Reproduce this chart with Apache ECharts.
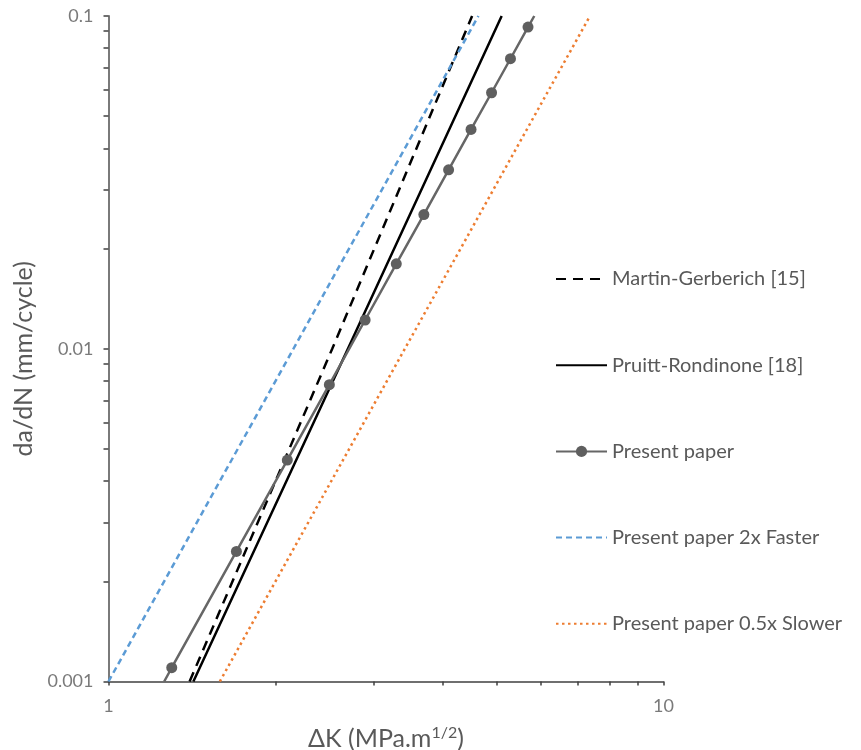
<!DOCTYPE html>
<html>
<head>
<meta charset="utf-8">
<script src="https://cdn.jsdelivr.net/npm/echarts@6/dist/echarts.min.js"></script>
<style>
html,body{margin:0;padding:0;background:#fff;}
#chart{width:861px;height:750px;}
</style>
</head>
<body>
<div id="chart"></div>
<script>
// ---- data ----
const seriesNames = ['Martin-Gerberich [15]', 'Pruitt-Rondinone [18]', 'Present paper', 'Present paper 2x Faster', 'Present paper 0.5x Slower'];

// [ΔK, da/dN]
const martinGerberich = [[1.40, 0.001], [2.53, 0.01], [4.52, 0.1]];
const pruittRondinone = [[1.422, 0.001], [2.70, 0.01], [5.11, 0.1]];
const presentLineEnds = [[1.26, 0.001], [5.85, 0.1]];
const presentK = [1.3, 1.7, 2.1, 2.5, 2.9, 3.3, 3.7, 4.1, 4.5, 4.9, 5.3, 5.7];
const presentRate = [0.0011, 0.00246, 0.00463, 0.0078, 0.0122, 0.018, 0.0253, 0.0345, 0.0456, 0.0588, 0.0744, 0.0926];
const fasterLine = [[1.0, 0.001], [2.154, 0.01], [4.64, 0.1]];
const slowerLine = [[1.587, 0.001], [3.42, 0.01], [7.37, 0.1]];

const xTickValues = [1, 2, 3, 4, 5, 6, 7, 8, 9, 10];
const xLabelValues = [1, 10];
const yTickValues = [0.001, 0.002, 0.003, 0.004, 0.005, 0.006, 0.007, 0.008, 0.009,
                     0.01, 0.02, 0.03, 0.04, 0.05, 0.06, 0.07, 0.08, 0.09, 0.1];
const yLabelValues = [0.001, 0.01, 0.1];

// ---- build ----
const FONT = 'Lato';
const presentData = [];
presentData.push({ value: presentLineEnds[0], symbol: 'none' });
presentK.forEach((k, i) => presentData.push([k, presentRate[i]]));
presentData.push({ value: presentLineEnds[1], symbol: 'none' });

const hiddenMarker = { color: 'rgba(0,0,0,0)', borderColor: 'rgba(0,0,0,0)', borderWidth: 0 };
const legendData = seriesNames.map((n, i) => i === 2 ? { name: n } : { name: n, itemStyle: hiddenMarker });

const chart = echarts.init(document.getElementById('chart'), null, { renderer: 'canvas' });
chart.setOption({
  animation: false,
  backgroundColor: '#ffffff',
  textStyle: { fontFamily: FONT },
  grid: { left: 108.5, top: 16, width: 555, height: 665.5, containLabel: false, outerBoundsMode: 'none' },
  legend: {
    orient: 'vertical',
    left: 550,
    top: 264,
    itemWidth: 51,
    itemHeight: 14,
    itemGap: 66.2,
    selectedMode: false,
    textStyle: { fontFamily: FONT, fontSize: 20, color: '#595959' },
    data: legendData
  },
  xAxis: {
    type: 'log',
    logBase: 10,
    min: 1,
    max: 10,
    name: 'ΔK (MPa.m{sup|1/2})',
    nameLocation: 'middle',
    nameGap: 43,
    nameTextStyle: {
      fontFamily: FONT, fontSize: 25, color: '#595959',
      rich: { sup: { fontFamily: FONT, fontSize: 16, color: '#595959', padding: [0, 0, 12, 0] } }
    },
    axisLine: { show: true, lineStyle: { color: '#404040', width: 1.5 } },
    axisTick: { show: true, inside: false, length: 4, customValues: xTickValues, lineStyle: { color: '#404040', width: 1.5 } },
    axisLabel: { show: true, margin: 16, customValues: xLabelValues, fontFamily: FONT, fontSize: 18, color: '#7a7a7a' },
    splitLine: { show: false },
    minorTick: { show: false }
  },
  yAxis: {
    type: 'log',
    logBase: 10,
    min: 0.001,
    max: 0.1,
    name: 'da/dN (mm/cycle)',
    nameLocation: 'middle',
    nameGap: 68,
    nameTextStyle: { fontFamily: FONT, fontSize: 25, color: '#595959', padding: [0, 20, 0, 0] },
    axisLine: { show: true, lineStyle: { color: '#7a7a7a', width: 2 } },
    axisTick: { show: true, inside: false, length: 5, customValues: yTickValues, lineStyle: { color: '#404040', width: 1.5 } },
    axisLabel: { show: true, margin: 15, customValues: yLabelValues, fontFamily: FONT, fontSize: 18, color: '#7a7a7a' },
    splitLine: { show: false }
  },
  series: [
    {
      name: seriesNames[0], type: 'line', data: martinGerberich, symbol: 'none',
      lineStyle: { color: '#000000', width: 2.5, type: [10, 7] }, itemStyle: { color: '#000000' }
    },
    {
      name: seriesNames[1], type: 'line', data: pruittRondinone, symbol: 'none',
      lineStyle: { color: '#000000', width: 2.5, type: 'solid' }, itemStyle: { color: '#000000' }
    },
    {
      name: seriesNames[2], type: 'line', data: presentData, symbol: 'circle', symbolSize: 11, showAllSymbol: true,
      lineStyle: { color: '#666666', width: 2.5 }, itemStyle: { color: '#5f5f5f' }
    },
    {
      name: seriesNames[3], type: 'line', data: fasterLine, symbol: 'none',
      lineStyle: { color: '#5b9bd5', width: 2.5, type: [6, 4] }, itemStyle: { color: '#5b9bd5' }
    },
    {
      name: seriesNames[4], type: 'line', data: slowerLine, symbol: 'none',
      lineStyle: { color: '#ed7d31', width: 2.5, type: [2.5, 3.5] }, itemStyle: { color: '#ed7d31' }
    }
  ]
});
</script>
</body>
</html>
